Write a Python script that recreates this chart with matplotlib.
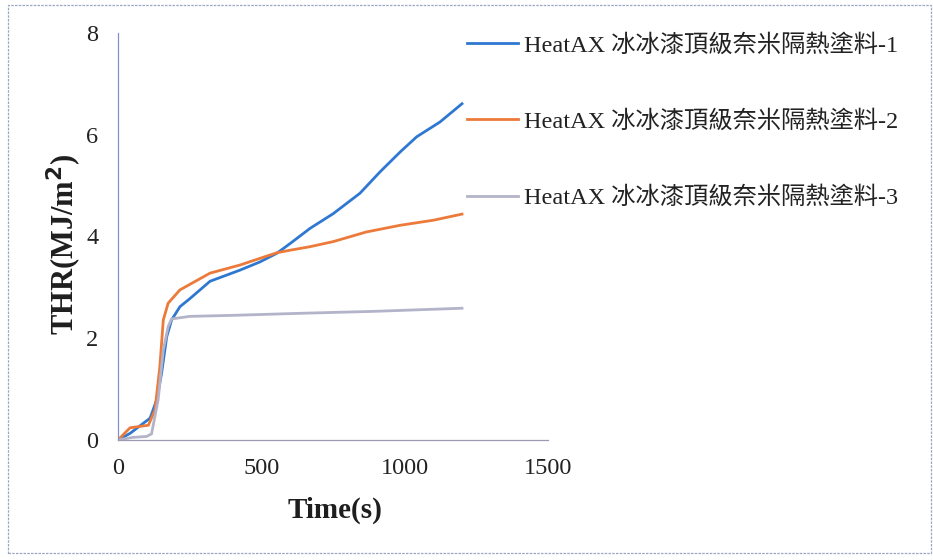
import matplotlib.pyplot as plt
from matplotlib.patches import Rectangle

# THR curves
time_1 = [0, 42, 112, 135, 152, 170, 187, 216, 251, 321, 426, 495, 554, 600, 670,
          751, 844, 914, 984, 1042, 1123, 1200]
thr_1 = [0, 0.13, 0.43, 0.79, 1.31, 2.03, 2.36, 2.62, 2.78, 3.12, 3.34, 3.50, 3.67, 3.86, 4.16,
         4.45, 4.85, 5.27, 5.66, 5.96, 6.25, 6.61]

time_2 = [0, 42, 106, 129, 146, 158, 175, 216, 321, 426, 495, 554, 600, 670,
          751, 867, 984, 1100, 1200]
thr_2 = [0, 0.24, 0.29, 0.59, 1.44, 2.36, 2.69, 2.95, 3.28, 3.44, 3.57, 3.68, 3.73, 3.80,
         3.90, 4.09, 4.22, 4.32, 4.44]

time_3 = [0, 50, 100, 117, 140, 158, 175, 187, 250, 400, 635, 900, 1200]
thr_3 = [0, 0.05, 0.07, 0.12, 0.79, 1.77, 2.23, 2.38, 2.43, 2.45, 2.49, 2.53, 2.59]

labels = ["HeatAX 冰冰漆頂級奈米隔熱塗料-1",
          "HeatAX 冰冰漆頂級奈米隔熱塗料-2",
          "HeatAX 冰冰漆頂級奈米隔熱塗料-3"]
colors = ["#2f78d2", "#ec7a3a", "#b3b3c9"]

x_ticks = [0, 500, 1000, 1500]
y_ticks = [0, 2, 4, 6, 8]

serif = ["Liberation Serif", "Noto Sans CJK TC", "DejaVu Sans"]
plt.rcParams["font.family"] = serif

fig = plt.figure(figsize=(9.33, 5.6), dpi=100)
ax = fig.add_axes([118 / 933, 120 / 560, 430 / 933, 407 / 560])

for t, v, c, lab in zip([time_1, time_2, time_3], [thr_1, thr_2, thr_3], colors, labels):
    ax.plot(t, v, color=c, lw=2.0, label=lab)

ax.set_xlim(0, 1500)
ax.set_ylim(0, 8)
ax.set_xticks(x_ticks)
ax.set_yticks(y_ticks)
ax.tick_params(length=0, labelsize=17.5, labelcolor="#222222")
ax.tick_params(axis="y", pad=14)
ax.tick_params(axis="x", pad=13)

for side in ["top", "right"]:
    ax.spines[side].set_visible(False)
ax.spines["left"].set_color("#7f93c4")
ax.spines["bottom"].set_color("#9a9aae")
for side in ["left", "bottom"]:
    ax.spines[side].set_linewidth(0.9)
    ax.spines[side].set_linestyle((0, (2, 1)))

ax.set_xlabel("Time(s)", fontsize=21, fontweight="bold", color="#1e1e1e")
ax.xaxis.set_label_coords(0.505, -0.14)
ax.set_ylabel("THR(MJ/m$^\\mathbf{2}$)", fontsize=22, fontweight="bold", color="#1e1e1e")
ax.yaxis.set_label_coords(-0.08, 0.48)

fig.legend(loc="upper left", bbox_to_anchor=(467 / 933, 1 - 34 / 560),
           frameon=False, prop={"family": serif, "size": 17.5},
           handlelength=2.1, handletextpad=0.25, labelspacing=2.2,
           borderpad=0, borderaxespad=0, labelcolor="#222222")

# scanned page border
fig.patches.append(Rectangle((8 / 933, 7 / 560), 923 / 933, 548 / 560,
                             transform=fig.transFigure, fill=False,
                             edgecolor="#9aa6c4", lw=0.9, ls=(0, (2, 1))))

fig.savefig("out.png", dpi=100)
